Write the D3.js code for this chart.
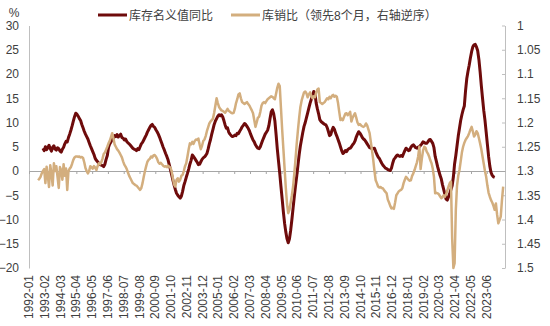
<!DOCTYPE html>
<html><head><meta charset="utf-8">
<script src="https://cdn.jsdelivr.net/npm/d3@7"></script>
<style>
body{margin:0;background:#fff;}
svg{display:block;font-family:"Liberation Sans","Noto Sans CJK SC",Arial,sans-serif;}
</style></head><body>
<svg id="c" width="550" height="326"></svg>
<script>
// categories: monthly from 1992-01 to 2024-08
const firstMonth = [1992, 1];
const monthCount = 392;
const xTickLabels = ["1992-01","1993-02","1994-03","1995-04","1996-05","1997-06","1998-07","1999-08","2000-09","2001-10","2002-11","2003-12","2005-01","2006-02","2007-03","2008-04","2009-05","2010-06","2011-07","2012-08","2013-09","2014-10","2015-11","2016-12","2018-01","2019-02","2020-03","2021-04","2022-05","2023-06"];
const leftTicks = [30,25,20,15,10,5,0,-5,-10,-15,-20];
const rightTicks = [1,1.05,1.1,1.15,1.2,1.25,1.3,1.35,1.4,1.45,1.5];
const seriesNames = ["库存名义值同比","库销比（领先8个月，右轴逆序）"];

// 库存名义值同比 (%), starts 1992-12
const invStart = "1992-12";
const invYoY = [
 4.7,
 4.2,5.0,4.4,4.8,5.3,4.6,4.1,4.9,5.2,4.5,4.3,4.8,
 4.6,4.1,3.9,4.5,4.9,5.6,6.1,6.0,6.9,7.6,8.4,9.3,
 10.3,11.2,11.9,11.7,11.3,10.8,10.4,9.6,8.9,8.2,7.6,7.1,
 6.6,5.9,5.2,4.6,4.0,3.4,2.6,2.2,1.9,1.6,1.3,1.2,
 1.1,0.9,1.4,2.4,3.2,4.9,5.6,6.0,6.5,6.8,7.3,7.1,
 7.5,7.0,7.3,7.6,6.9,6.8,6.4,6.6,6.1,5.8,5.6,5.3,
 5.0,4.7,4.5,4.4,4.2,4.6,4.4,5.0,5.6,5.9,6.4,6.9,
 7.4,8.0,8.5,9.0,9.4,9.6,9.2,9.0,8.5,8.1,7.6,7.0,
 6.3,5.6,4.9,4.3,3.6,3.0,2.3,1.3,0.3,-0.8,-1.9,-2.9,
 -3.8,-4.6,-5.0,-5.3,-5.6,-5.2,-4.2,-3.0,-2.2,-1.3,-0.5,0.4,
 1.4,2.2,3.3,3.0,2.6,2.2,1.8,1.3,1.4,1.9,2.4,2.7,
 2.9,3.2,3.6,4.5,5.6,6.5,7.6,8.6,9.6,10.3,10.8,11.3,
 11.6,11.4,11.6,11.2,10.4,9.5,8.8,8.9,8.0,7.6,7.3,7.1,
 7.2,7.4,7.3,7.8,7.7,8.2,8.6,9.1,9.4,9.8,9.6,9.2,
 8.8,8.3,7.6,7.0,6.4,6.0,5.4,5.0,4.7,4.6,5.0,5.7,
 6.4,7.0,7.6,8.0,8.4,9.3,10.8,12.2,12.6,11.8,10.3,7.5,
 4.5,2.0,-0.5,-3.2,-5.8,-8.5,-10.8,-12.6,-14.0,-14.8,-14.0,-12.2,
 -10.0,-7.6,-5.2,-3.0,-1.0,1.2,3.4,5.2,6.6,8.0,9.2,10.0,
 11.0,12.0,13.0,14.0,14.8,15.6,16.4,16.0,14.0,12.8,11.8,10.6,
 10.2,10.0,9.8,9.6,9.5,9.0,8.2,7.3,7.5,8.4,9.0,8.6,
 7.8,7.2,6.5,5.8,5.0,4.2,3.6,3.8,4.2,4.0,4.4,4.6,
 4.7,5.0,5.4,5.7,6.2,7.0,7.6,8.1,7.8,7.4,6.9,6.6,
 6.4,6.0,5.6,5.2,4.8,4.7,4.7,4.6,4.7,4.0,3.4,2.9,
 2.6,2.1,1.6,1.2,0.9,0.6,0.5,0.3,0.2,0.1,0.6,1.6,
 2.4,2.7,3.1,3.3,3.1,3.0,3.2,3.0,3.6,4.2,4.7,4.5,
 4.2,4.3,4.9,5.2,5.4,5.1,4.8,4.7,4.9,5.0,5.3,5.6,
 6.0,5.9,5.7,5.7,6.0,6.4,6.5,6.1,5.7,4.8,3.0,2.0,
 0.9,0.0,-0.9,-1.6,-2.8,-3.8,-4.8,-5.8,-6.0,-5.3,-4.6,-3.8,
 -3.0,-1.2,1.5,3.2,5.2,7.2,8.8,10.4,11.6,12.6,13.4,16.5,
 19.0,20.5,21.8,23.3,24.6,25.6,26.0,26.1,25.6,24.8,23.0,20.5,
 17.6,15.0,12.5,10.5,8.0,5.5,3.0,1.0,-0.3,-0.9,-1.2,-1.3
];

// 库销比（领先8个月）, starts 1992-08
const ratioStart = "1992-08";
const salesRatio = [
 1.319,1.316,1.312,1.305,1.300,
 1.296,1.325,1.291,1.310,1.333,1.288,1.305,1.330,1.284,1.300,1.290,1.312,
 1.335,1.292,1.298,1.318,1.286,1.310,1.295,1.339,1.300,1.295,1.292,1.285,
 1.277,1.272,1.270,1.270,1.271,1.270,1.272,1.271,1.273,1.282,1.294,1.300,
 1.305,1.300,1.290,1.292,1.295,1.290,1.293,1.298,1.290,1.284,1.286,1.282,
 1.275,1.265,1.262,1.256,1.250,1.243,1.238,1.230,1.222,1.232,1.245,1.250,
 1.255,1.258,1.262,1.267,1.272,1.280,1.287,1.291,1.296,1.303,1.310,1.315,
 1.320,1.325,1.327,1.329,1.330,1.333,1.336,1.339,1.335,1.325,1.312,1.300,
 1.290,1.281,1.277,1.275,1.270,1.272,1.268,1.267,1.270,1.275,1.282,1.285,
 1.283,1.286,1.289,1.291,1.290,1.292,1.289,1.291,1.293,1.301,1.315,1.328,
 1.332,1.318,1.315,1.322,1.318,1.310,1.308,1.300,1.290,1.284,1.270,1.255,
 1.243,1.245,1.240,1.244,1.238,1.235,1.236,1.233,1.245,1.255,1.248,1.238,
 1.235,1.228,1.218,1.210,1.202,1.198,1.195,1.192,1.180,1.165,1.150,1.160,
 1.168,1.172,1.175,1.176,1.178,1.180,1.176,1.172,1.176,1.178,1.180,1.181,
 1.180,1.172,1.160,1.152,1.142,1.140,1.150,1.158,1.160,1.162,1.160,1.158,
 1.162,1.165,1.170,1.175,1.181,1.195,1.209,1.200,1.190,1.188,1.178,1.165,
 1.160,1.158,1.160,1.156,1.152,1.150,1.148,1.146,1.147,1.150,1.152,1.140,
 1.128,1.120,1.125,1.170,1.215,1.255,1.295,1.335,1.368,1.387,1.380,1.365,
 1.350,1.332,1.305,1.275,1.243,1.215,1.190,1.168,1.155,1.146,1.138,1.136,
 1.140,1.148,1.142,1.138,1.145,1.150,1.146,1.148,1.138,1.132,1.130,1.158,
 1.160,1.162,1.160,1.158,1.154,1.150,1.152,1.147,1.150,1.145,1.143,1.147,
 1.145,1.147,1.160,1.178,1.195,1.192,1.195,1.188,1.182,1.181,1.185,1.182,
 1.178,1.198,1.190,1.185,1.181,1.190,1.200,1.205,1.203,1.206,1.208,1.209,
 1.207,1.202,1.206,1.214,1.222,1.240,1.258,1.277,1.300,1.319,1.325,1.332,
 1.334,1.333,1.335,1.336,1.340,1.343,1.346,1.359,1.365,1.372,1.377,1.376,
 1.378,1.365,1.350,1.346,1.342,1.340,1.339,1.335,1.325,1.318,1.312,1.315,
 1.318,1.320,1.319,1.310,1.305,1.298,1.290,1.282,1.270,1.250,1.296,1.275,
 1.258,1.250,1.252,1.260,1.264,1.270,1.278,1.284,1.295,1.312,1.346,1.345,
 1.346,1.348,1.352,1.356,1.354,1.350,1.353,1.348,1.340,1.332,1.325,1.322,
 1.440,1.500,1.490,1.380,1.330,1.310,1.298,1.280,1.262,1.250,1.242,1.236,
 1.232,1.228,1.222,1.215,1.209,1.218,1.229,1.225,1.218,1.222,1.232,1.243,
 1.255,1.270,1.285,1.300,1.312,1.330,1.345,1.353,1.360,1.365,1.372,1.380,
 1.367,1.390,1.408,1.401,1.394,1.360,1.332
];

// ---- build ----
const months = [];
for (let k = 0; k < monthCount; k++) {
  const y = firstMonth[0] + Math.floor((firstMonth[1] - 1 + k) / 12);
  const m = (firstMonth[1] - 1 + k) % 12 + 1;
  months.push(y + "-" + (m < 10 ? "0" + m : m));
}
const invData = invYoY.map((v, k) => ({i: months.indexOf(invStart) + k, v}));
const ratioData = salesRatio.map((v, k) => ({i: months.indexOf(ratioStart) + k, v}));

const L = 29, R = 505, T = 25.5, B = 268;
const svg = d3.select("#c");
const x = d3.scaleLinear().domain([0, months.length]).range([L, R]);
const yL = d3.scaleLinear().domain([-20, 30]).range([B, T]);
const yR = d3.scaleLinear().domain([1.5, 1.0]).range([B, T]);
const txt = "#404040", axisCol = "#BFBFBF";
const darkCol = "#6E0B0B", tanCol = "#D3AE7E";

// left axis
const gl = svg.append("g").attr("transform", `translate(${L},0)`)
  .call(d3.axisLeft(yL).tickValues(leftTicks).tickSize(0).tickPadding(10).tickFormat(d3.format("d")));
gl.select(".domain").attr("stroke", axisCol);
gl.selectAll("text").attr("fill", txt).attr("font-size", 12);

// right axis
const gr = svg.append("g").attr("transform", `translate(${R},0)`)
  .call(d3.axisRight(yR).tickValues(rightTicks).tickSizeInner(-3).tickSizeOuter(0).tickPadding(12).tickFormat(d => String(+d.toFixed(2))));
gr.select(".domain").attr("stroke", axisCol);
gr.selectAll("line").attr("stroke", axisCol);
gr.selectAll("text").attr("fill", txt).attr("font-size", 12);

// zero line as category axis
const tickIdx = xTickLabels.map(s => months.indexOf(s));
const gx = svg.append("g").attr("transform", `translate(0,${yL(0)})`)
  .call(d3.axisBottom(x).tickValues(tickIdx).tickSizeInner(3).tickSizeOuter(0).tickFormat(""));
gx.select(".domain").attr("stroke", "#A6A6A6");
gx.selectAll("line").attr("stroke", "#A6A6A6");

// x labels at bottom
svg.append("g").selectAll("text").data(xTickLabels).join("text")
  .attr("transform", s => `translate(${x(months.indexOf(s)) + 4},${B + 7}) rotate(-90)`)
  .attr("text-anchor", "end").attr("fill", txt).attr("font-size", 12)
  .text(s => s);

// lines
const lineInv = d3.line().x(d => x(d.i + 0.5)).y(d => yL(d.v));
const lineRatio = d3.line().x(d => x(d.i + 0.5)).y(d => yR(d.v));
svg.append("path").datum(invData).attr("d", lineInv).attr("fill", "none")
  .attr("stroke", darkCol).attr("stroke-width", 3).attr("stroke-linejoin", "round");
svg.append("path").datum(ratioData).attr("d", lineRatio).attr("fill", "none")
  .attr("stroke", tanCol).attr("stroke-width", 2.5).attr("stroke-linejoin", "round");

// unit label
svg.append("text").attr("x", 14).attr("y", 17).attr("text-anchor", "middle")
  .attr("fill", txt).attr("font-size", 12).text("%");

// legend
const leg = [{x: 98, c: darkCol, w: 3, t: seriesNames[0]}, {x: 231, c: tanCol, w: 3, t: seriesNames[1]}];
leg.forEach(o => {
  svg.append("line").attr("x1", o.x).attr("x2", o.x + 29).attr("y1", 15).attr("y2", 15)
    .attr("stroke", o.c).attr("stroke-width", o.w);
  svg.append("text").attr("x", o.x + 31).attr("y", 19.5).attr("fill", txt).attr("font-size", 12).text(o.t);
});
</script>
</body></html>
